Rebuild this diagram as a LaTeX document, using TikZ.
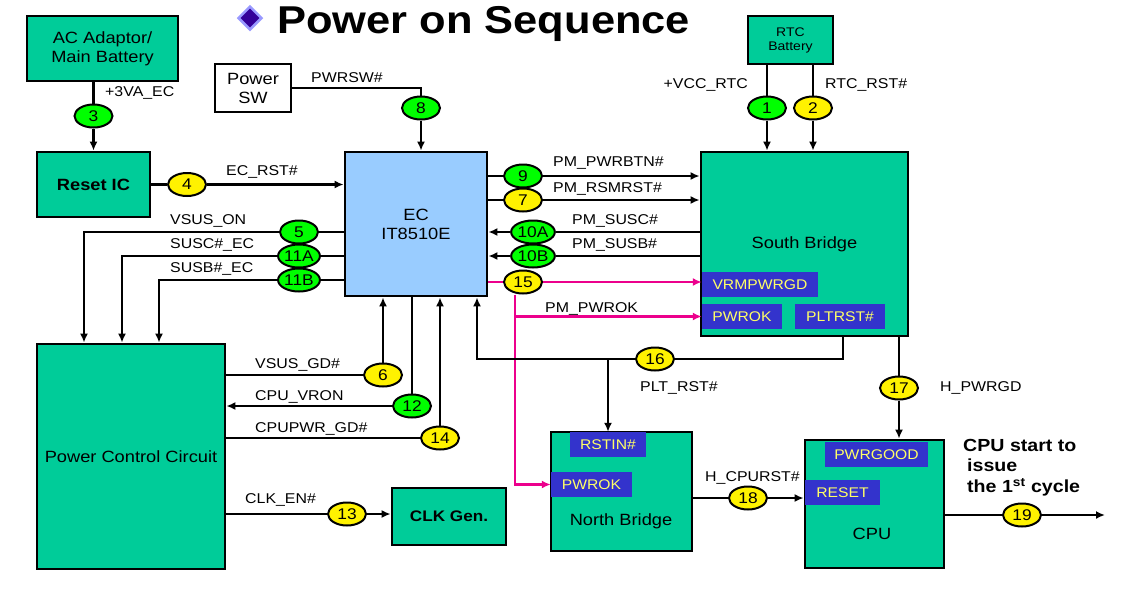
\documentclass[tikz,border=0pt]{standalone}
\usepackage{fontspec}
\setmainfont{Liberation Sans}[FakeStretch=1.12]
\usetikzlibrary{arrows.meta,shapes.geometric}
\definecolor{boxgreen}{HTML}{00CC99}
\definecolor{ecblue}{HTML}{99CCFF}
\definecolor{pinblue}{HTML}{3333CC}
\definecolor{pinyellow}{HTML}{FFFF66}
\definecolor{diapurple}{HTML}{330099}
\definecolor{dialilac}{HTML}{9999FF}
\newcommand{\boxfont}{\fontsize{16.3}{19}\selectfont}
\newcommand{\lblfont}{\fontsize{14.2}{16}\selectfont}
\begin{document}
\begin{tikzpicture}[x=1pt,y=-1pt,
        box/.style={draw,line width=2.8pt,fill=boxgreen,inner sep=0pt,align=center,font=\boxfont},
        pinbox/.style={fill=pinblue,text=pinyellow,inner sep=0pt,minimum height=25pt,font=\fontsize{14}{16}\selectfont},
        numg/.style={ellipse,draw,line width=2pt,fill=green,minimum width=38pt,minimum height=23pt,inner sep=0pt,font=\fontsize{15.5}{16}\selectfont},
        numy/.style={numg,fill=yellow},
        sig/.style={line width=2.4pt},
        magline/.style={sig,draw=magenta},
        lbl/.style={inner sep=0pt,anchor=west,font=\lblfont},
        >={Latex[length=9pt,width=8pt]},line join=miter
    ]
    \useasboundingbox (0,0) rectangle (1125,595);
    % title
    \node[diamond,draw=dialilac,fill=diapurple,line width=2.5pt,minimum size=24pt,inner sep=0pt] (dia) at (250,18) {};
    \node[anchor=base west,inner sep=0pt,font=\bfseries\fontsize{38.8}{40}\selectfont] (title) at (277,33) {Power on Sequence};
    % blocks
    \node[box,minimum width=151pt,minimum height=65pt] (acbat) at (102.5,48.5) {AC Adaptor/\\Main Battery};
    \node[box,minimum width=113pt,minimum height=65pt,font=\bfseries\boxfont] (reset) at (93.5,184.5) {Reset IC};
    \node[box,fill=white,minimum width=76pt,minimum height=48pt] (pwrsw) at (253,88) {Power\\SW};
    \node[box,fill=ecblue,minimum width=142pt,minimum height=144pt] (ec) at (416,224) {EC\\IT8510E};
    \node[box,minimum width=85pt,minimum height=48pt,font=\fontsize{12.5}{14}\selectfont] (rtc) at (790.5,40) {RTC\\Battery};
    \node[box,minimum width=207pt,minimum height=184pt] (sb) at (804.5,244) {South Bridge};
    \node[box,minimum width=188pt,minimum height=225pt] (pcc) at (131,456.5) {Power Control Circuit};
    \node[box,minimum width=114pt,minimum height=57pt,font=\bfseries\fontsize{15.3}{17}\selectfont] (clk) at (449,516.5) {CLK Gen.};
    \node[box,minimum width=141pt,minimum height=119pt] (nb) at (621.5,491.5) {};
    \node[inner sep=0pt,font=\boxfont] (nbname) at (621,521) {North Bridge};
    \node[box,minimum width=139pt,minimum height=128pt] (cpu) at (874.5,504) {};
    \node[inner sep=0pt,font=\boxfont] (cpuname) at (872,534) {CPU};
    % pins
    \node[pinbox,minimum width=116pt] (vrm) at (760,284.5) {VRMPWRGD};
    \node[pinbox,minimum width=80pt] (sbpwrok) at (742,316.5) {PWROK};
    \node[pinbox,minimum width=90pt] (pltrst) at (840,316.5) {PLTRST\#};
    \node[pinbox,minimum width=76pt] (rstin) at (608,444.5) {RSTIN\#};
    \node[pinbox,minimum width=81pt] (nbpwrok) at (591.5,484.5) {PWROK};
    \node[pinbox,minimum width=103pt] (pwrgood) at (876.5,454.5) {PWRGOOD};
    \node[pinbox,minimum width=75pt] (cpureset) at (842.5,492.5) {RESET};
    % sequence numbers
    \node[numg] (n1) at (767,108) {1};
    \node[numy] (n2) at (813,108) {2};
    \node[numg] (n3) at (93.5,116) {3};
    \node[numy] (n4) at (187,184.5) {4};
    \node[numg] (n5) at (299,232) {5};
    \node[numy] (n6) at (383,375) {6};
    \node[numy] (n7) at (523,200) {7};
    \node[numg] (n8) at (421,108) {8};
    \node[numg] (n9) at (523,176) {9};
    \node[numg] (n10a) at (533,232) {10A};
    \node[numg] (n10b) at (533,256) {10B};
    \node[numg] (n11a) at (299,256) {11A};
    \node[numg] (n11b) at (299,280) {11B};
    \node[numg] (n12) at (412,406) {12};
    \node[numy] (n13) at (347,514) {13};
    \node[numy] (n14) at (440,438) {14};
    \node[numy] (n15) at (523,282) {15};
    \node[numy] (n16) at (655,359) {16};
    \node[numy] (n17) at (899,388) {17};
    \node[numy] (n18) at (748,498) {18};
    \node[numy] (n19) at (1022,515) {19};
    % bends
    \coordinate (d5) at (84,232);
    \coordinate (d11a) at (122,256);
    \coordinate (d11b) at (159,280);
    \coordinate (mv) at (515,320);
    \coordinate (j16r) at (843,359);
    \coordinate (j16l) at (477,359);
    \coordinate (j16b) at (608,359);
    \coordinate (out19) at (1105,515);
    % signals
    \draw[sig] (acbat.south -| n3) -- (n3);
    \draw[sig,->] (n3) -- (reset);
    \draw[sig] (reset) -- (n4);
    \draw[sig,->] (n4) -- (ec.west |- n4);
    \draw[sig] (pwrsw.east) -- (pwrsw.east -| n8) -- (n8);
    \draw[sig,->] (n8) -- (ec.north -| n8);
    \draw[sig] (rtc.south -| n1) -- (n1);
    \draw[sig,->] (n1) -- (sb.north -| n1);
    \draw[sig] (rtc.south -| n2) -- (n2);
    \draw[sig,->] (n2) -- (sb.north -| n2);
    \draw[sig] (ec.east |- n9) -- (n9);
    \draw[sig,->] (n9) -- (sb.west |- n9);
    \draw[sig] (ec.east |- n7) -- (n7);
    \draw[sig,->] (n7) -- (sb.west |- n7);
    \draw[sig] (sb.west |- n10a) -- (n10a);
    \draw[sig,->] (n10a) -- (ec.east |- n10a);
    \draw[sig] (sb.west |- n10b) -- (n10b);
    \draw[sig,->] (n10b) -- (ec.east |- n10b);
    \draw[magline] (ec.east |- n15) -- (n15);
    \draw[magline,->] (n15) -- (vrm.west |- n15);
    \draw[magline,->] (n15.south -| mv) -- (mv |- nbpwrok.west) -- (nbpwrok.west);
    \draw[magline,->] (mv |- sbpwrok.west) -- (sbpwrok.west);
    \draw[sig] (ec.west |- n5) -- (n5);
    \draw[sig,->] (n5) -- (d5) -- (d5 |- pcc.north);
    \draw[sig] (ec.west |- n11a) -- (n11a);
    \draw[sig,->] (n11a) -- (d11a) -- (d11a |- pcc.north);
    \draw[sig] (ec.west |- n11b) -- (n11b);
    \draw[sig,->] (n11b) -- (d11b) -- (d11b |- pcc.north);
    \draw[sig] (pcc.east |- n6) -- (n6);
    \draw[sig,->] (n6) -- (ec.south -| n6);
    \draw[sig] (ec.south -| n12) -- (n12);
    \draw[sig,->] (n12) -- (pcc.east |- n12);
    \draw[sig] (pcc.east |- n14) -- (n14);
    \draw[sig,->] (n14) -- (ec.south -| n14);
    \draw[sig] (pcc.east |- n13) -- (n13);
    \draw[sig,->] (n13) -- (clk.west |- n13);
    \draw[sig] (sb.south -| j16r) -- (j16r) -- (n16);
    \draw[sig,->] (n16) -- (j16l) -- (ec.south -| j16l);
    \draw[sig,->] (j16b) -- (rstin.north);
    \draw[sig] (sb.south -| n17) -- (n17);
    \draw[sig,->] (n17) -- (cpu.north -| n17);
    \draw[sig] (nb.east |- n18) -- (n18);
    \draw[sig,->] (n18) -- (cpu.west |- n18);
    \draw[sig] (cpu.east |- n19) -- (n19);
    \draw[sig,->] (n19) -- (out19);
    % signal names
    \node[lbl] (l3) at (105,93) {+3VA\_EC};
    \node[lbl] (l4) at (226,172) {EC\_RST\#};
    \node[lbl] (l8) at (311,78) {PWRSW\#};
    \node[lbl,anchor=east] (l1) at (748,85) {+VCC\_RTC};
    \node[lbl] (l2) at (825,85) {RTC\_RST\#};
    \node[lbl] (l9) at (553,163) {PM\_PWRBTN\#};
    \node[lbl] (l7) at (553,189) {PM\_RSMRST\#};
    \node[lbl] (l10a) at (572,221) {PM\_SUSC\#};
    \node[lbl] (l10b) at (572,245) {PM\_SUSB\#};
    \node[lbl] (l5) at (170,221) {VSUS\_ON};
    \node[lbl] (l11a) at (170,245) {SUSC\#\_EC};
    \node[lbl] (l11b) at (170,269) {SUSB\#\_EC};
    \node[lbl] (l6) at (255,365) {VSUS\_GD\#};
    \node[lbl] (l12) at (255,397) {CPU\_VRON};
    \node[lbl] (l14) at (255,429) {CPUPWR\_GD\#};
    \node[lbl] (l13) at (245,500) {CLK\_EN\#};
    \node[lbl] (l15) at (545,309) {PM\_PWROK};
    \node[lbl] (l16) at (640,388) {PLT\_RST\#};
    \node[lbl] (l17) at (940,388) {H\_PWRGD};
    \node[lbl] (l18) at (705,478) {H\_CPURST\#};
    \node[anchor=north west,align=left,inner sep=0pt,font=\bfseries\fontsize{17.5}{20.5}\selectfont] (cpunote) at (963,439)
        {CPU start to\\\hspace{4pt}issue\\\hspace{4pt}the 1\textsuperscript{st} cycle};
\end{tikzpicture}
\end{document}
